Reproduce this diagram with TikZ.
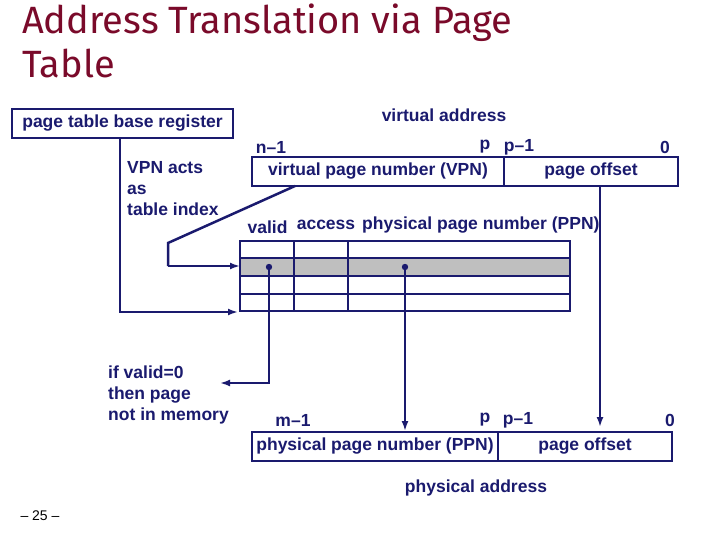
\documentclass[tikz,border=0pt]{standalone}
\usepackage{fontspec}
\setmainfont{Liberation Sans}
\newfontfamily\titlefont{Fira Sans}
\usetikzlibrary{arrows.meta}
\definecolor{navy}{HTML}{1A1A6E}
\definecolor{ttl}{HTML}{7A0A2A}
\begin{document}
\begin{tikzpicture}[x=1pt,y=-1pt,
  txt/.style={inner sep=0pt,text=navy,font=\bfseries\fontsize{17.5}{21}\selectfont},
  box/.style={draw=navy,line width=2pt},
  ln/.style={draw=navy,line width=2pt},
  arr/.style={ln,-{Latex[length=10pt,width=7pt]}}]
\useasboundingbox (0,0) rectangle (720,540);
\node[anchor=north west,align=left,inner sep=0pt,text=ttl,font=\titlefont\fontsize{38}{44}\selectfont] (title) at (22,4) {Address Translation via Page\\Table};
% PTBR
\node[box,minimum width=221,minimum height=29,inner sep=0pt] (ptbr) at (122.5,123.5) {};
\node[txt] (ptbrt) at (ptbr) {page table base register};
\node[txt,anchor=north west,align=left] (vpnacts) at (127,161) {VPN acts\\as\\table index};
% virtual address
\node[txt] (vat) at (444,115) {virtual address};
\node[txt] (n1) at (271,147) {n–1};
\node[txt] (vp) at (485,147) {p};
\node[txt] (vp1) at (519,147) {p–1};
\node[txt] (v0) at (665,147) {0};
\node[box,minimum width=252,minimum height=29,inner sep=0pt] (vpn) at (378,171.5) {};
\node[box,minimum width=174,minimum height=29,inner sep=0pt] (voff) at (591,171.5) {};
\node[txt] at (vpn) {virtual page number (VPN)};
\node[txt] at (voff) {page offset};
% headers
\node[txt] (hv) at (267.5,227) {valid};
\node[txt] (ha) at (326,225) {access};
\node[txt,anchor=west] (hp) at (362,225) {physical page number (PPN)};
% table
\fill[gray!50] (240,258) rectangle (570,276);
\draw[navy,line width=2pt] (240,241) rectangle (570,311);
\foreach \y in {258,276,294} \draw[navy,line width=2pt] (240,\y) -- (570,\y);
\foreach \x in {294,348} \draw[navy,line width=2pt] (\x,241) -- (\x,311);
\coordinate (rowin) at (240,266);
\coordinate (tblin) at (238,312);
\coordinate (dv) at (269,267);
\coordinate (dp) at (405,267);
\fill[navy] (dv) circle (3.2);
\fill[navy] (dp) circle (3.2);
% connectors
\draw[arr] (ptbr.south -| 120,0) |- (tblin);
\coordinate (vpnfoot) at (295,186);
\draw[ln,line width=2.5pt] (vpnfoot) -- (168,243) -- (168,266);
\draw[arr,line width=2.5pt] (168,266) -- (rowin);
\coordinate (inv) at (220,383);
\draw[arr] (dv) |- (inv);
\node[txt,anchor=north west,align=left] (ifv) at (108,366) {if valid=0\\then page\\not in memory};
% physical address
\node[txt] (m1) at (293,420) {m–1};
\node[txt] (pp) at (485,420) {p};
\node[txt] (pp1) at (518,420) {p–1};
\node[txt] (p0) at (670,420) {0};
\node[box,minimum width=246,minimum height=29,inner sep=0pt] (ppn) at (375,446.5) {};
\node[box,minimum width=174,minimum height=29,inner sep=0pt] (poff) at (585,446.5) {};
\node[txt] at (ppn) {physical page number (PPN)};
\node[txt] at (poff) {page offset};
\draw[arr] (dp) -- (dp |- ppn.north);
\draw[arr] (600,186) -- (600,427);
\node[txt] (pat) at (476,488) {physical address};
\node[inner sep=0pt,font=\fontsize{14}{16}\selectfont] (pg) at (40,516) {– 25 –};
\end{tikzpicture}
\end{document}
